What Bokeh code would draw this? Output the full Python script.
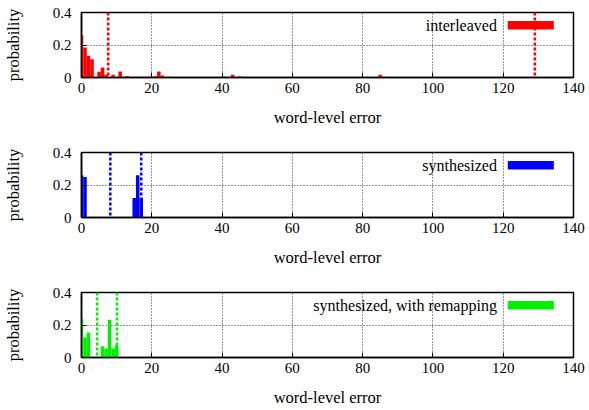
from bokeh.plotting import figure
from bokeh.layouts import column
from bokeh.models import (FixedTicker, CustomJSTickFormatter, Span, Label,
                          BoxAnnotation)
from bokeh.embed import file_html
from bokeh.resources import INLINE

# ---------------- data ----------------
interleaved_err = [0, 1, 2, 3, 5, 6, 7, 9, 11, 13, 17, 19, 21, 22, 23, 25,
                   33, 37, 41, 43, 45, 49, 65, 75, 83, 85, 86, 129]
interleaved_prob = [0.26, 0.185, 0.134, 0.113, 0.035, 0.062, 0.017, 0.017,
                    0.037, 0.010, 0.004, 0.004, 0.008, 0.037, 0.012, 0.005,
                    0.003, 0.003, 0.005, 0.017, 0.008, 0.003, 0.003, 0.003,
                    0.003, 0.017, 0.005, 0.002]
synth_err = [0, 1, 15, 16, 17]
synth_prob = [0.26, 0.25, 0.12, 0.26, 0.12]
remap_err = [0, 1, 2, 6, 7, 8, 9, 10]
remap_prob = [0.24, 0.123, 0.154, 0.07, 0.055, 0.232, 0.055, 0.076]

series_names = ["interleaved", "synthesized", "synthesized, with remapping"]
mean_err = [7.6, 8.2, 4.45]
max_err = [129, 17, 10.1]

x_ticks = [0, 20, 40, 60, 80, 100, 120, 140]
y_ticks = [0, 0.2, 0.4]
x_label = "word-level error"
y_label = "probability"

# ---------------- styling ----------------
FONT = "Liberation Serif"
COLORS = ["#ff0000", "#0000ff", "#00ee00"]
LEG_TEXT_X, LEG_TEXT_Y = 118.2, 0.321
LEG_BOX = dict(left=121.3, right=134.4, bottom=0.295, top=0.348)


def make_panel(err, prob, color, name, mean, mx, height, border_bottom):
    p = figure(width=588, height=height, x_range=(0, 140), y_range=(0, 0.4),
               output_backend="svg", toolbar_location=None,
               min_border_left=80, min_border_right=15, min_border_top=12,
               min_border_bottom=border_bottom)
    p.vbar(x=err, top=prob, width=1.0, bottom=0, fill_color=color,
           line_color=None)

    p.xaxis.ticker = FixedTicker(ticks=x_ticks)
    p.yaxis.ticker = FixedTicker(ticks=y_ticks)
    p.yaxis.formatter = CustomJSTickFormatter(
        code="return (Math.round(tick*10)/10).toString();")
    p.xaxis.axis_label = x_label
    p.yaxis.axis_label = y_label
    for ax in p.axis:
        ax.major_tick_in = 5
        ax.major_tick_out = 0
        ax.minor_tick_line_color = None
        ax.axis_line_color = "black"
        ax.axis_line_width = 1.5
        ax.major_tick_line_color = "black"
        ax.major_label_text_font = FONT
        ax.major_label_text_font_size = "15px"
        ax.major_label_text_color = "black"
        ax.axis_label_text_font = FONT
        ax.axis_label_text_font_size = "16.5px"
        ax.axis_label_text_font_style = "normal"
        ax.axis_label_text_color = "black"
    p.xaxis.major_label_standoff = 5
    p.xaxis.axis_label_standoff = 12
    p.yaxis.major_label_standoff = 10
    p.yaxis.axis_label_standoff = 27

    p.grid.grid_line_color = "#333333"
    p.grid.grid_line_dash = "1 2"
    p.grid.grid_line_width = 1
    p.outline_line_color = "black"
    p.outline_line_width = 1.5
    p.outline_line_alpha = 1

    for loc in (mean, mx):
        p.add_layout(Span(location=loc, dimension="height", line_color=color,
                          line_dash="3 2", line_width=2.5))

    p.add_layout(BoxAnnotation(fill_color=color, fill_alpha=1, line_alpha=0,
                               **LEG_BOX))
    p.add_layout(Label(x=LEG_TEXT_X, y=LEG_TEXT_Y, text=name,
                       text_align="right", text_baseline="middle",
                       text_font=FONT, text_font_size="16px",
                       text_color="black"))
    return p


p1 = make_panel(interleaved_err, interleaved_prob, COLORS[0], series_names[0],
                mean_err[0], max_err[0], 140, 63)
p2 = make_panel(synth_err, synth_prob, COLORS[1], series_names[1],
                mean_err[1], max_err[1], 140, 63)
p3 = make_panel(remap_err, remap_prob, COLORS[2], series_names[2],
                mean_err[2], max_err[2], 130, 53)

layout = column(p1, p2, p3, spacing=0)
open("out.html", "w").write(file_html(layout, INLINE))
